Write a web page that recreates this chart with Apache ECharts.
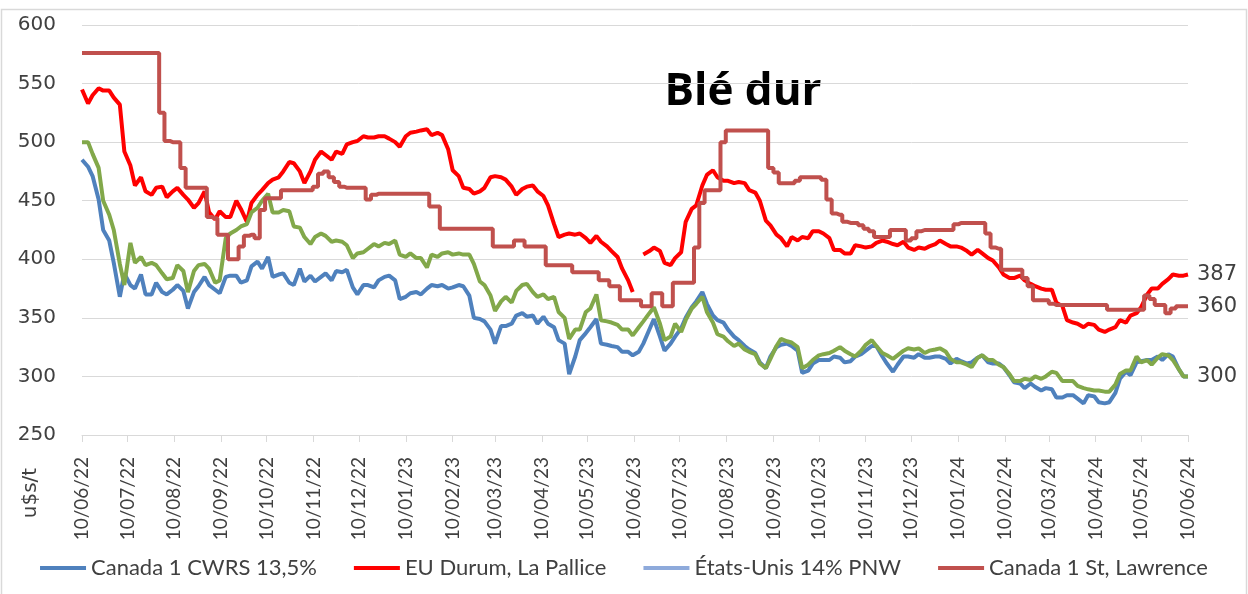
<!DOCTYPE html>
<html>
<head>
<meta charset="utf-8">
<title>Blé dur</title>
<script src="https://cdn.jsdelivr.net/npm/echarts@6.0.0/dist/echarts.min.js"></script>
<style>
  html, body { margin: 0; padding: 0; background: #fff; }
  #chart { width: 1248px; height: 594px; }
</style>
</head>
<body>
<div id="chart"></div>
<script>
// monthly tick labels (dd/mm/yy)
const tickLabels = ['10/06/22', '10/07/22', '10/08/22', '10/09/22', '10/10/22', '10/11/22', '10/12/22',
  '10/01/23', '10/02/23', '10/03/23', '10/04/23', '10/05/23', '10/06/23', '10/07/23', '10/08/23',
  '10/09/23', '10/10/23', '10/11/23', '10/12/23', '10/01/24', '10/02/24', '10/03/24', '10/04/24',
  '10/05/24', '10/06/24'];

// readings twice a week from 10/06/22, last one on 10/06/24
const cwrs = [485, 479, 471, 451, 425, 416, 397, 368, 388, 378,
  375, 387, 370, 370, 380, 372, 370, 374, 378, 373,
  358, 372, 377, 385, 378, 374, 371, 385, 386, 386,
  380, 382, 394, 398, 392, 402, 385, 387, 388, 380,
  378, 392, 381, 386, 381, 385, 388, 382, 390, 389,
  391, 376, 370, 378, 378, 376, 382, 385, 386, 382,
  366, 368, 371, 372, 370, 375, 378, 377, 378, 375,
  376, 378, 377, 369, 350, 349, 347, 340, 328, 343,
  343, 345, 352, 354, 351, 352, 345, 351, 345, 342,
  331, 328, 302, 317, 331, 337, 342, 349, 328, 327,
  326, 325, 321, 321, 318, 321, 328, 340, 349, 334,
  322, 328, 334, 341, 350, 359, 364, 372, 362, 352,
  348, 346, 340, 334, 331, 326, 323, 320, 312, 307,
  317, 325, 327, 328, 326, 322, 303, 305, 311, 314,
  314, 314, 317, 316, 312, 313, 317, 319, 322, 326,
  326, 317, 311, 304, 310, 317, 317, 316, 319, 316,
  316, 317, 317, 315, 311, 315, 313, 311, 312, 316,
  318, 312, 311, 311, 308, 301, 295, 294, 290, 294,
  291, 288, 290, 289, 282, 282, 284, 284, 281, 277,
  284, 283, 278, 277, 278, 286, 298, 304, 301, 312,
  313, 314, 314, 317, 314, 319, 317, 306, 300, 300];

// null = no quote that week
const durum = [545, 533, 540, 546, 544, 544, 538, 532, 492, 480,
  463, 470, 458, 455, 461, 462, 453, 458, 461, 455,
  451, 444, 448, 458, 440, 434, 441, 436, 436, 450,
  443, 432, 448, 455, 459, 465, 468, 470, 475, 483,
  482, 475, 465, 475, 485, 492, 489, 485, 492, 490,
  498, 500, 501, 505, 504, 504, 505, 505, 503, 500,
  496, 505, 508, 509, 510, 511, 506, 508, 506, 494,
  476, 471, 461, 460, 456, 458, 461, 470, 471, 470,
  468, 462, 455, 460, 462, 463, 458, 454, 446, 430,
  419, 421, 422, 421, 422, 418, 414, 420, 415, 411,
  407, 402, 392, 382, 372, null, 404, 407, 410, 407,
  397, 395, 401, 406, 432, 443, 446, 463, 472, 476,
  470, 467, 467, 465, 466, 465, 459, 457, 450, 433,
  429, 421, 418, 411, 419, 416, 419, 418, 424, 424,
  422, 418, 408, 408, 405, 405, 412, 411, 410, 411,
  414, 416, 415, 413, 412, 415, 410, 408, 410, 409,
  411, 413, 416, 413, 411, 411, 410, 407, 404, 408,
  405, 401, 399, 393, 387, 384, 384, 386, 382, 379,
  377, 375, 374, 374, 363, 360, 348, 346, 345, 342,
  345, 344, 340, 338, 340, 342, 348, 346, 352, 354,
  359, 370, 375, 375, 379, 383, 387, 386, 386, 387];

const pnw = [500, 500, 490, 478, 450, 438, 425, 396, 378, 414,
  397, 402, 395, 397, 395, 388, 383, 384, 395, 390,
  372, 390, 395, 396, 392, 380, 382, 418, 422, 425,
  428, 430, 440, 444, 450, 456, 440, 440, 442, 441,
  428, 427, 419, 413, 419, 422, 420, 415, 416, 415,
  412, 401, 405, 406, 409, 413, 411, 414, 413, 416,
  404, 402, 405, 401, 401, 393, 404, 402, 405, 406,
  404, 405, 404, 404, 396, 381, 378, 369, 356, 364,
  368, 363, 373, 378, 379, 372, 368, 370, 366, 368,
  355, 350, 332, 340, 340, 355, 358, 370, 348, 347,
  346, 344, 340, 340, 335, 342, 347, 354, 359, 345,
  331, 334, 345, 338, 348, 358, 362, 368, 355, 346,
  336, 334, 330, 326, 328, 323, 321, 319, 311, 307,
  315, 326, 332, 330, 329, 325, 307, 310, 314, 318,
  319, 320, 322, 325, 322, 319, 317, 322, 327, 331,
  326, 320, 318, 315, 318, 322, 324, 323, 324, 320,
  322, 323, 324, 321, 315, 312, 312, 310, 308, 316,
  318, 314, 314, 310, 308, 302, 296, 296, 298, 297,
  300, 298, 300, 304, 303, 296, 296, 296, 292, 290,
  289, 288, 288, 287, 287, 293, 302, 305, 305, 317,
  312, 314, 310, 316, 319, 318, 314, 306, 300, 300];

const lawrence = [576, 576, 576, 576, 576, 576, 576, 576, 576, 576,
  576, 576, 576, 576, 576, 525, 501, 500, 500, 478,
  461, 461, 461, 461, 436, 435, 421, 421, 400, 400,
  411, 420, 421, 418, 442, 452, 452, 452, 459, 459,
  459, 459, 459, 459, 462, 473, 475, 470, 466, 462,
  461, 461, 461, 461, 451, 455, 456, 456, 456, 456,
  456, 456, 456, 456, 456, 456, 445, 445, 426, 426,
  426, 426, 426, 426, 426, 426, 426, 426, 411, 411,
  411, 411, 416, 416, 411, 411, 411, 411, 395, 395,
  395, 395, 395, 389, 389, 389, 389, 389, 382, 382,
  377, 377, 365, 365, 365, 365, 360, 360, 371, 371,
  360, 360, 380, 380, 380, 380, 410, 448, 459, 459,
  459, 500, 510, 510, 510, 510, 510, 510, 510, 510,
  478, 474, 465, 465, 465, 467, 470, 470, 470, 470,
  468, 451, 439, 438, 432, 431, 431, 429, 426, 424,
  419, 419, 419, 425, 425, 425, 416, 418, 424, 425,
  425, 425, 425, 425, 425, 430, 431, 431, 431, 431,
  431, 422, 410, 409, 391, 391, 391, 391, 384, 377,
  365, 365, 365, 362, 361, 361, 361, 361, 361, 361,
  361, 361, 361, 361, 357, 357, 357, 357, 357, 357,
  357, 369, 366, 361, 361, 354, 358, 360, 360, 360];

const names = ['Canada 1 CWRS 13,5%', 'EU Durum, La Pallice', 'États-Unis 14% PNW', 'Canada 1 St, Lawrence'];

function parseDay(s) {
  const [d, m, y] = s.split('/').map(Number);
  return new Date(2000 + y, m - 1, d).getTime();
}

const tickValues = tickLabels.map(parseDay);
const labelOf = {};
tickLabels.forEach((l, i) => { labelOf[tickValues[i]] = l; });

// twice-weekly date grid (3 or 4 days apart)
const quoteDates = [];
for (let i = 0; i < cwrs.length - 1; i++) {
  quoteDates.push(new Date(2022, 5, 10 + Math.round(i * 3.5)).getTime());
}
quoteDates.push(tickValues[tickValues.length - 1]);

const pairs = (vals) => vals.map((v, i) => [quoteDates[i], v]);

const txt = '#404040';
const endLabel = {
  show: true,
  formatter: (p) => p.value[1],
  distance: 9,
  fontSize: 21,
  color: txt,
  fontFamily: 'DejaVu Sans'
};

const myChart = echarts.init(document.getElementById('chart'));

myChart.setOption({
  animation: false,
  backgroundColor: '#fff',
  grid: { left: 82, right: 60, top: 25, bottom: 159 },
  legend: {
    left: 'center',
    top: 552,
    icon: 'rect',
    itemWidth: 46,
    itemHeight: 4,
    itemGap: 37,
    textStyle: { fontFamily: 'Lato', fontSize: 22, color: txt },
    data: [
      { name: names[0] },
      { name: names[1] },
      { name: names[2], itemStyle: { color: '#8eaadb' } },
      { name: names[3] }
    ]
  },
  xAxis: {
    type: 'value',
    min: tickValues[0],
    max: tickValues[tickValues.length - 1],
    axisLine: { lineStyle: { color: '#d9d9d9', width: 1 } },
    axisTick: { customValues: tickValues, length: 7, lineStyle: { color: '#d9d9d9' } },
    splitLine: { show: false },
    axisLabel: {
      customValues: tickValues,
      rotate: 90,
      margin: 22,
      fontFamily: 'Lato',
      fontSize: 19,
      color: txt,
      formatter: (v) => labelOf[v] || ''
    }
  },
  yAxis: {
    type: 'value',
    min: 250,
    max: 600,
    interval: 50,
    axisLine: { show: false },
    axisTick: { show: false },
    splitLine: { lineStyle: { color: '#d9d9d9', width: 1 } },
    axisLabel: { margin: 26, fontFamily: 'DejaVu Sans', fontSize: 20, color: txt }
  },
  series: [
    {
      name: names[0], type: 'line', data: pairs(cwrs), symbol: 'none',
      color: '#4f81bd', lineStyle: { width: 4 }
    },
    {
      name: names[1], type: 'line', data: pairs(durum), symbol: 'none',
      color: '#ff0000', lineStyle: { width: 4 }, endLabel: endLabel
    },
    {
      name: names[2], type: 'line', data: pairs(pnw), symbol: 'none',
      color: '#82a84a', lineStyle: { width: 4 }, endLabel: endLabel
    },
    {
      name: names[3], type: 'line', data: pairs(lawrence), symbol: 'none', step: 'middle',
      color: '#c0504d', lineStyle: { width: 4 }, endLabel: endLabel
    }
  ],
  graphic: [
    {
      type: 'rect',
      shape: { x: 1.5, y: 9.5, width: 1245, height: 600 },
      style: { fill: 'none', stroke: '#d9d9d9', lineWidth: 1.5 },
      silent: true
    },
    {
      type: 'text',
      x: 743, y: 92,
      style: {
        text: 'Blé dur', fill: '#000', align: 'center', verticalAlign: 'middle',
        font: 'bold 44px "Open Sans"'
      }
    },
    {
      type: 'text',
      x: 31, y: 493, rotation: Math.PI / 2,
      style: {
        text: 'u$s/t', fill: txt, align: 'center', verticalAlign: 'middle',
        font: '20px "DejaVu Sans"'
      }
    }
  ]
});

window.addEventListener('resize', () => {
  myChart.resize();
});
</script>
</body>
</html>
